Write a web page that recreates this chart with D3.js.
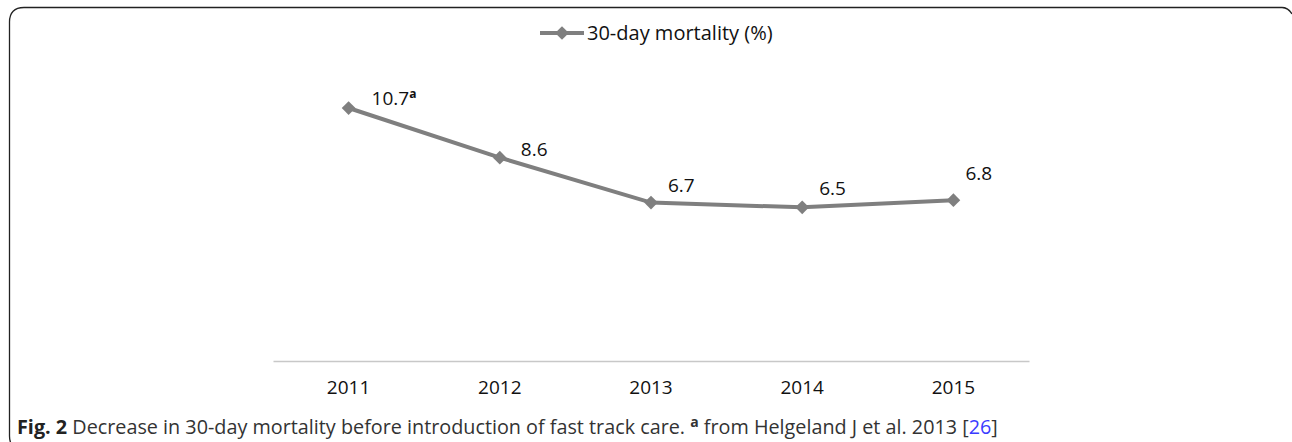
<!DOCTYPE html>
<html>
<head>
<meta charset="utf-8">
<script src="https://cdn.jsdelivr.net/npm/d3@7"></script>
<style>
  body { margin: 0; background: white; }
  svg { display: block; }
</style>
</head>
<body>
<div class="chart"></div>
<script>
const years = ["2011", "2012", "2013", "2014", "2015"]
const mortality = [10.7, 8.6, 6.7, 6.5, 6.8]
const pointLabels = ["10.7", "8.6", "6.7", "6.5", "6.8"]
const seriesName = "30-day mortality (%)"

const width = 1292, height = 442

const svg = d3.select(".chart").append("svg")
	.attr("width", width)
	.attr("height", height)

// rounded frame (corners partly cut by the crop)
svg.append("path")
	.attr("d", "M16,446 Q9.5,446 9.5,436 L9.5,22 Q9.5,7.5 24,7.5 L1282,7.5 Q1288,7.5 1292,14")
	.attr("fill", "none")
	.attr("stroke", "#222")
	.attr("stroke-width", 1.3)

const x = d3.scaleBand().domain(years).range([273, 1029])
const y = d3.scaleLinear().domain([0, 14]).range([361, 30])
const cx = (i) => x(years[i]) + x.bandwidth() / 2

// category axis
const xAxis = svg.append("g")
	.attr("transform", `translate(0,${y(0)})`)
	.call(d3.axisBottom(x).tickSize(0).tickPadding(20))
xAxis.select(".domain").attr("stroke", "#c8c8c8").attr("stroke-width", 1.3)
xAxis.selectAll("text")
	.style("font-family", "'Open Sans'")
	.style("font-size", "19px")
	.attr("fill", "#111")

const line = d3.line()
	.x((d, i) => cx(i))
	.y(d => y(d))

svg.append("path")
	.datum(mortality)
	.attr("d", line)
	.attr("fill", "none")
	.attr("stroke", "#7f7f7f")
	.attr("stroke-width", 4)

const diamond = d3.symbol().type(d3.symbolDiamond2).size(120)

svg.selectAll("path.pt")
	.data(mortality)
	.join("path")
	.attr("class", "pt")
	.attr("d", diamond)
	.attr("transform", (d, i) => `translate(${cx(i)},${y(d)})`)
	.attr("fill", "#7f7f7f")

// data labels, nudged like the original (manually placed in the source chart)
const nudge = [[23, -3], [21, -2], [17, -11], [17, -12], [12, -20]]
const labels = svg.selectAll("text.lbl")
	.data(mortality)
	.join("text")
	.attr("class", "lbl")
	.attr("x", (d, i) => cx(i) + nudge[i][0])
	.attr("y", (d, i) => y(d) + nudge[i][1])
	.style("font-family", "'Open Sans'")
	.style("font-size", "19px")
	.attr("fill", "#111")
	.text((d, i) => pointLabels[i])
labels.filter((d, i) => i === 0)
	.append("tspan")
	.attr("dy", -7)
	.style("font-size", "12px")
	.style("font-weight", "bold")
	.text("a")

// legend
const lg = svg.append("g").attr("transform", "translate(540,33)")
lg.append("line")
	.attr("x1", 0).attr("x2", 44)
	.attr("stroke", "#7f7f7f").attr("stroke-width", 4)
lg.append("path")
	.attr("d", diamond)
	.attr("transform", "translate(22,0)")
	.attr("fill", "#7f7f7f")
lg.append("text")
	.attr("x", 47).attr("y", 7)
	.style("font-family", "'Open Sans'")
	.style("font-size", "20px")
	.attr("fill", "#111")
	.text(seriesName)

// caption
const cap = svg.append("text")
	.attr("x", 17).attr("y", 434)
	.style("font-family", "'Open Sans'")
	.style("font-size", "19.8px")
	.attr("fill", "#333")
cap.append("tspan").style("font-weight", "bold").attr("fill", "#222").text("Fig. 2")
cap.append("tspan").text(" Decrease in 30-day mortality before introduction of fast track care. ")
cap.append("tspan").attr("dy", -7).style("font-weight", "bold").style("font-size", "14px").text("a")
cap.append("tspan").attr("dy", 7).text(" from Helgeland J et al. 2013 [")
cap.append("tspan").attr("fill", "#3b3bff").text("26")
cap.append("tspan").text("]")
</script>
</body>
</html>
